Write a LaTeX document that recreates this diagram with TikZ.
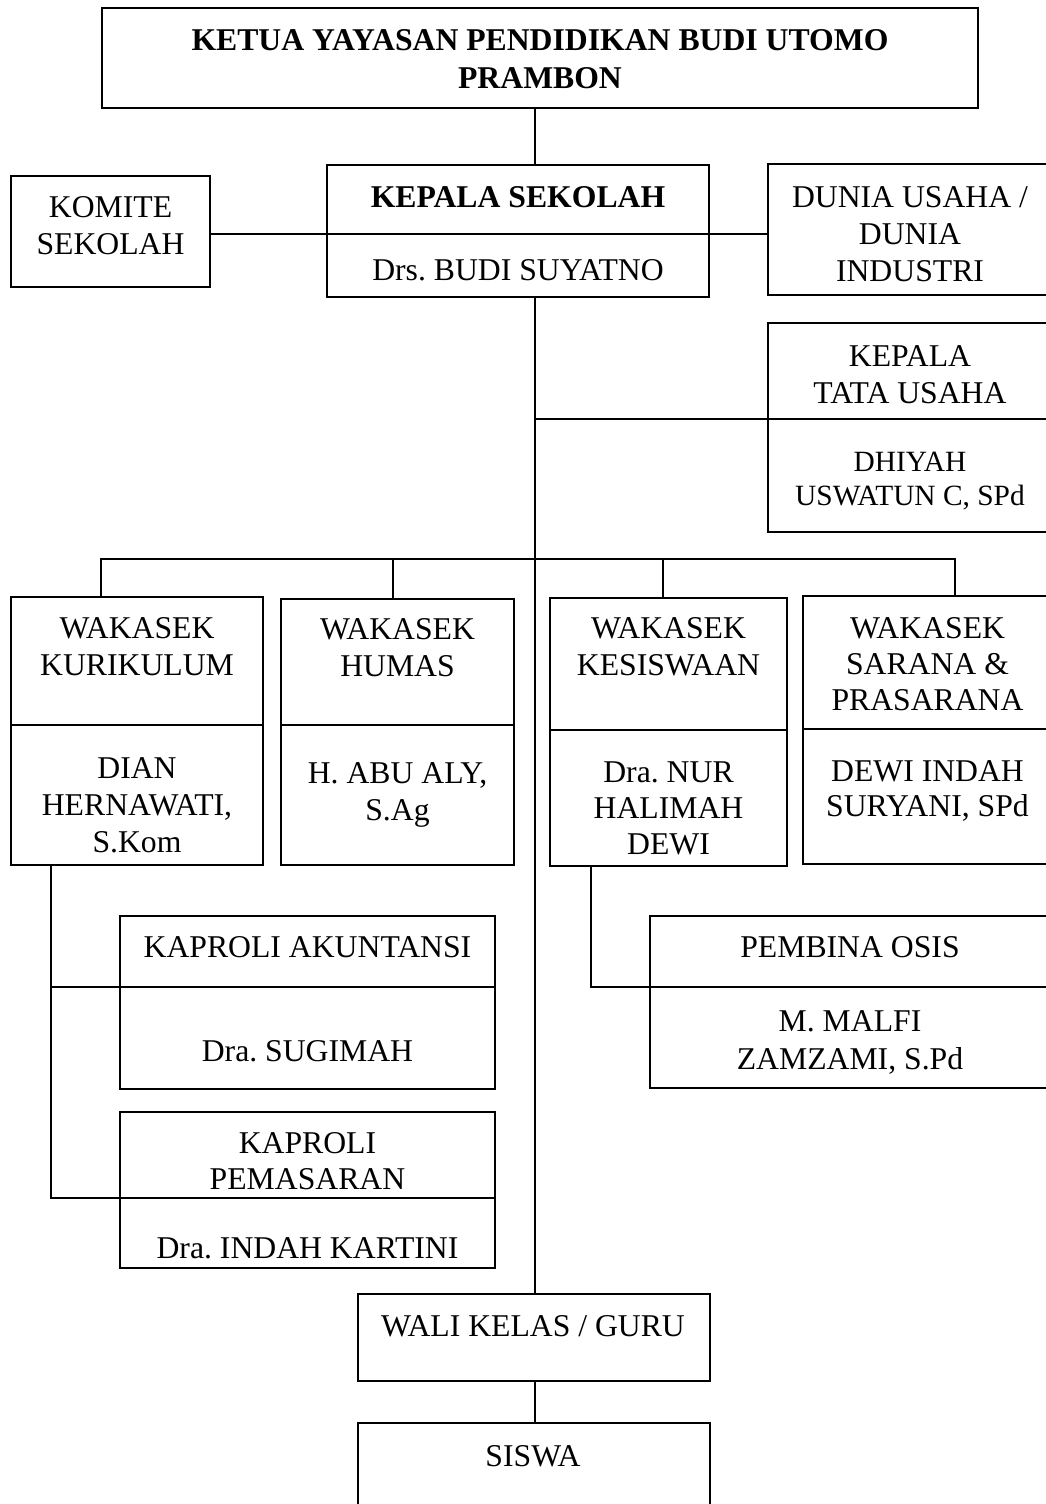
\documentclass[tikz,border=0pt]{standalone}
\usepackage{fontspec}
\setmainfont{Liberation Serif}
\begin{document}
\frenchspacing
\begin{tikzpicture}[x=1pt,y=-1pt,
  bx/.style={draw,rectangle,line width=1.5pt,inner sep=0pt,outer sep=0pt},
  ln/.style={line width=1.3pt},
  dv/.style={line width=1.5pt},
  txt/.style={anchor=north,inner sep=0pt,align=center,font=\fontsize{31.7}{37}\selectfont},
  btxt/.style={txt,font=\fontsize{31.7}{38}\selectfont\bfseries}]
\useasboundingbox (0,0) rectangle (1046,1504);
\clip (0,0) rectangle (1046,1504);
\fill[white] (0,0) rectangle (1046,1504);

% boxes
\node[bx,minimum width=876pt,minimum height=100pt] (top) at (540,58) {};
\node[bx,minimum width=382pt,minimum height=132pt] (ks) at (518,231) {};
\node[bx,minimum width=199pt,minimum height=111pt] (kom) at (110.5,231.5) {};
\node[bx,minimum width=284pt,minimum height=131pt] (du) at (910,229.5) {};
\node[bx,minimum width=284pt,minimum height=209pt] (ktu) at (910,427.5) {};
\node[bx,minimum width=252pt,minimum height=268pt] (wk1) at (137,731) {};
\node[bx,minimum width=233pt,minimum height=266pt] (wk2) at (397.5,732) {};
\node[bx,minimum width=237pt,minimum height=268pt] (wk3) at (668.5,732) {};
\node[bx,minimum width=249pt,minimum height=268pt] (wk4) at (927.5,730) {};
\node[bx,minimum width=375pt,minimum height=173pt] (ak) at (307.5,1002.5) {};
\node[bx,minimum width=375pt,minimum height=156pt] (pm) at (307.5,1190) {};
\node[bx,minimum width=400pt,minimum height=172pt] (os) at (850,1002) {};
\node[bx,minimum width=352pt,minimum height=87pt] (wali) at (534,1337.5) {};
\node[bx,minimum width=352pt,minimum height=107pt] (sis) at (534,1476.5) {};

% dividers
\coordinate (dks) at (0,234);
\coordinate (dktu) at (0,419);
\coordinate (dw12) at (0,725);
\coordinate (dw3) at (0,730);
\coordinate (dw4) at (0,729);
\coordinate (dak) at (0,987);
\coordinate (dpm) at (0,1198);
\draw[dv] (ks.west |- dks) -- (ks.east |- dks);
\draw[dv] (ktu.west |- dktu) -- (ktu.east |- dktu);
\draw[dv] (wk1.west |- dw12) -- (wk1.east |- dw12);
\draw[dv] (wk2.west |- dw12) -- (wk2.east |- dw12);
\draw[dv] (wk3.west |- dw3) -- (wk3.east |- dw3);
\draw[dv] (wk4.west |- dw4) -- (wk4.east |- dw4);
\draw[dv] (ak.west |- dak) -- (ak.east |- dak);
\draw[dv] (pm.west |- dpm) -- (pm.east |- dpm);
\draw[dv] (os.west |- dak) -- (os.east |- dak);

% connectors
\coordinate (tk) at (535,0);
\coordinate (l1) at (51,0);
\coordinate (l3) at (591,0);
\coordinate (b1) at (101,559);
\coordinate (b2) at (393,559);
\coordinate (b3) at (663,559);
\coordinate (b4) at (955,559);
\draw[ln] (top.south -| tk) -- (ks.north -| tk);
\draw[ln] (kom.east |- dks) -- (du.west |- dks);
\draw[ln] (ks.south -| tk) -- (wali.north -| tk);
\draw[ln] (tk |- dktu) -- (ktu.west |- dktu);
\draw[ln] (wk1.north -| b1) -- (b1) -- (b4) -- (wk4.north -| b4);
\draw[ln] (b2) -- (wk2.north -| b2);
\draw[ln] (b3) -- (wk3.north -| b3);
\draw[ln] (wk1.south -| l1) -- (l1 |- dpm) -- (pm.west |- dpm);
\draw[ln] (l1 |- dak) -- (ak.west |- dak);
\draw[ln] (wk3.south -| l3) -- (l3 |- dak) -- (os.west |- dak);
\draw[ln] (wali.south -| tk) -- (sis.north -| tk);

% texts
\node[btxt] (ttop) at (540,29) {KETUA YAYASAN PENDIDIKAN BUDI UTOMO\\PRAMBON};
\node[btxt] (tks) at (518,186) {KEPALA SEKOLAH};
\node[txt] (tks2) at (518,259) {Drs. BUDI SUYATNO};
\node[txt] (tkom) at (110.5,196) {KOMITE\\SEKOLAH};
\node[txt] (tdu) at (910,186) {DUNIA USAHA /\\DUNIA\\INDUSTRI};
\node[txt] (tktu) at (910,345) {KEPALA\\TATA USAHA};
\node[txt,font=\fontsize{29.4}{34}\selectfont] (tktu2) at (910,452) {DHIYAH\\USWATUN C, SPd};
\node[txt] (twk1) at (137,617) {WAKASEK\\KURIKULUM};
\node[txt] (twk1b) at (137,757) {DIAN\\HERNAWATI,\\S.Kom};
\node[txt] (twk2) at (397.5,618) {WAKASEK\\HUMAS};
\node[txt] (twk2b) at (397.5,762) {H. ABU ALY,\\S.Ag};
\node[txt] (twk3) at (668.5,617) {WAKASEK\\KESISWAAN};
\node[txt,font=\fontsize{31.7}{36}\selectfont] (twk3b) at (668.5,762) {Dra. NUR\\HALIMAH\\DEWI};
\node[txt,font=\fontsize{31.7}{36}\selectfont] (twk4) at (927.5,617) {WAKASEK\\SARANA \&\\PRASARANA};
\node[txt,font=\fontsize{31.7}{35}\selectfont] (twk4b) at (927.5,760) {DEWI INDAH\\SURYANI, SPd};
\node[txt] (tak) at (307.5,936) {KAPROLI AKUNTANSI};
\node[txt] (tak2) at (307.5,1040) {Dra. SUGIMAH};
\node[txt,font=\fontsize{31.7}{36}\selectfont] (tpm) at (307.5,1132) {KAPROLI\\PEMASARAN};
\node[txt] (tpm2) at (307.5,1237) {Dra. INDAH KARTINI};
\node[txt] (tos) at (850,936) {PEMBINA OSIS};
\node[txt,font=\fontsize{31.7}{38}\selectfont] (tos2) at (850,1010) {M. MALFI\\ZAMZAMI, S.Pd};
\node[txt] (twali) at (533,1315) {WALI KELAS / GURU};
\node[txt] (tsis) at (533,1445) {SISWA};
\end{tikzpicture}
\end{document}
